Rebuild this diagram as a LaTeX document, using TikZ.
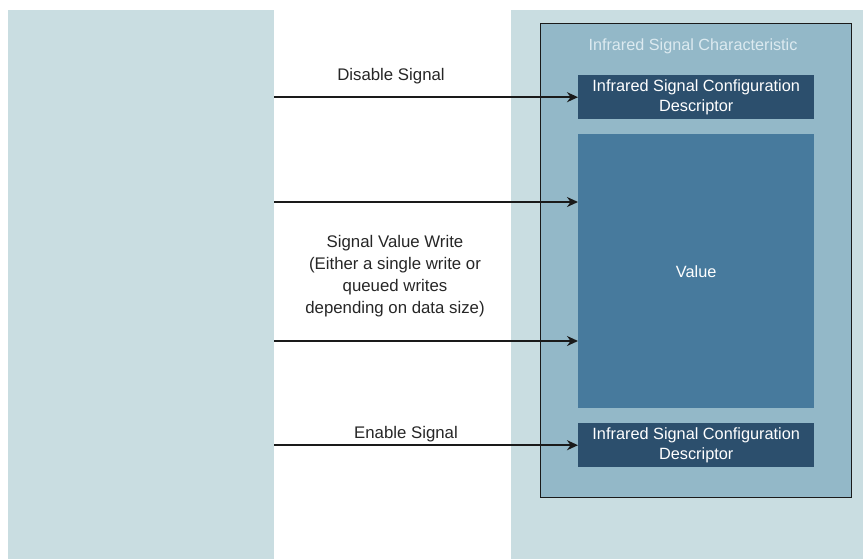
\documentclass[tikz,border=0pt]{standalone}
\usepackage{fontspec}
\setmainfont{Liberation Sans}
\usetikzlibrary{arrows.meta,positioning}
\definecolor{panelc}{HTML}{C9DDE1}
\definecolor{innerc}{HTML}{93B8C8}
\definecolor{descc}{HTML}{2C4F6D}
\definecolor{valc}{HTML}{477A9D}
\definecolor{titlec}{HTML}{DCEAF0}
\definecolor{linec}{HTML}{1A1A1A}
\tikzset{
  panel/.style={fill=panelc,draw=none,anchor=north west,inner sep=0pt,minimum width=#1},
  blk/.style={draw=none,anchor=north west,inner sep=0pt,text=white,align=center,font=\fontsize{16.3}{20}\selectfont},
  arr/.style={-{Stealth[length=11pt,width=10pt]},line width=1.8pt,draw=linec},
  lbl/.style={align=center,text=black!85,font=\fontsize{16.8}{22}\selectfont}
}
\begin{document}
\begin{tikzpicture}[x=1pt,y=-1pt]
\useasboundingbox (0,0) rectangle (866,559);
\node[panel=266pt,minimum height=549pt] (L) at (8,10) {};
\node[panel=352pt,minimum height=549pt] (R) at (511,10) {};
\node[fill=innerc,draw=linec,line width=1.4pt,anchor=north west,inner sep=0pt,minimum width=311pt,minimum height=474pt] (C) at (540,23) {};
\node[text=titlec,font=\fontsize{16.2}{19}\selectfont] (T) at (693,46) {Infrared Signal Characteristic};
\node[blk,fill=descc,minimum width=236pt,minimum height=44pt] (d1) at (578,75) {Infrared Signal Configuration\\Descriptor};
\node[blk,fill=valc,minimum width=236pt,minimum height=274pt] (val) at (578,134) {Value};
\node[blk,fill=descc,minimum width=236pt,minimum height=44pt] (d2) at (578,423) {Infrared Signal Configuration\\Descriptor};
\coordinate (a2s) at (274,202);
\coordinate (a3s) at (274,341);
\draw[arr] (L.east |- d1.west) -- (d1.west);
\draw[arr] (a2s) -- (val.west |- a2s);
\draw[arr] (a3s) -- (val.west |- a3s);
\draw[arr] (L.east |- d2.west) -- (d2.west);
\node[lbl] (l1) at (391,76) {Disable Signal};
\node[lbl] (l2) at (395,276) {Signal Value Write\\(Either a single write or\\queued writes\\depending on data size)};
\node[lbl] (l3) at (406,434) {Enable Signal};
\end{tikzpicture}
\end{document}
